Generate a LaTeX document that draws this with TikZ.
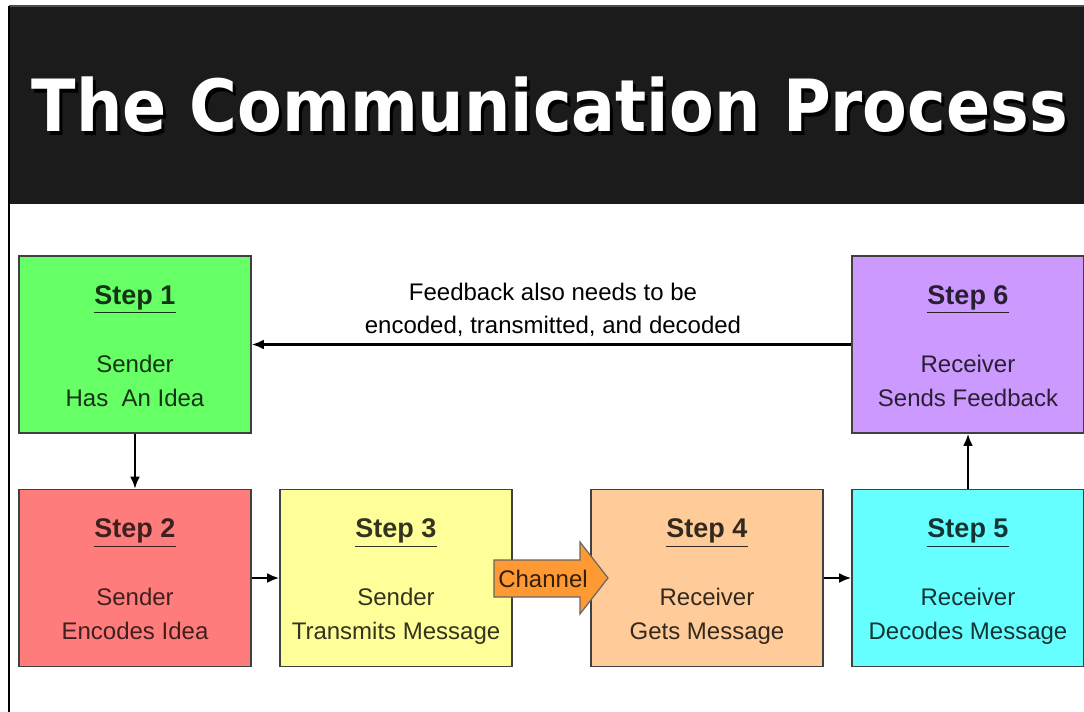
\documentclass[tikz,border=0pt]{standalone}
\usepackage{fontspec}
\setmainfont{Liberation Sans}
\newfontfamily\titlefont{DejaVu Sans}
\usetikzlibrary{calc,arrows,arrows.meta}
\definecolor{header}{HTML}{1B1B1B}
\definecolor{idea}{HTML}{66FF66}
\definecolor{encode}{HTML}{FF7C7C}
\definecolor{transmit}{HTML}{FFFF99}
\definecolor{gets}{HTML}{FFCC99}
\definecolor{decode}{HTML}{66FFFF}
\definecolor{feedback}{HTML}{CC99FF}
\definecolor{channel}{HTML}{FF9933}
\newcommand{\steptext}[3]{\rule{0pt}{16pt}{\fontsize{13.5}{17}\selectfont\underline{\textbf{Step #1}}}\\[17pt]#2\\#3\strut}
\newcommand{\titletext}{\scalebox{0.905}[1]{The Communication Process}}

\begin{document}
\begin{tikzpicture}[x=0.5pt,y=-0.5pt,
                      stepbox/.style={draw=black!75,line width=0.8pt,minimum width=116pt,
                        minimum height=88.5pt,inner sep=0pt,align=center,
                        font=\fontsize{12}{17}\selectfont},
                      link/.style={-{Latex[length=6pt,width=5pt]},line width=1.3pt}]
                      \useasboundingbox (0,0) rectangle (1084,712);
                      % header band and left rule
                      \fill[header] (9,6) rectangle (1084,204);
                      \draw[black!70,line width=0.6pt] (9,6) -- (1084,6);
                      \draw[black,line width=0.8pt] (9,6) -- (9,712);
                      \node[anchor=base,text=black,font=\titlefont\bfseries\fontsize{36}{40}\selectfont](shadow)at(553,135){\titletext};
                      \node[anchor=base,text=white,font=\titlefont\bfseries\fontsize{36}{40}\selectfont](title)at(550,132){\titletext};
                      % the six steps
                      \node[stepbox,fill=idea,text=idea!20!black](s1)at(135,344.5){\steptext{1}{Sender}{Has\ \ An Idea}};
                      \node[stepbox,fill=encode,text=encode!25!black](s2)at(135,578){\steptext{2}{Sender}{Encodes Idea}};
                      \node[stepbox,fill=transmit,text=transmit!20!black](s3)at(396,578){\steptext{3}{Sender}{Transmits Message}};
                      \node[stepbox,fill=gets,text=gets!20!black](s4)at(707,578){\steptext{4}{Receiver}{Gets Message}};
                      \node[stepbox,fill=decode,text=decode!20!black](s5)at(968,578){\steptext{5}{Receiver}{Decodes Message}};
                      \node[stepbox,fill=feedback,text=feedback!20!black](s6)at(968,344.5){\steptext{6}{Receiver}{Sends Feedback}};
                      % connectors
                      \draw[link] (s1) -- (s2);
                      \draw[link] (s2) -- (s3);
                      \draw[link] (s4) -- (s5);
                      \draw[link] (s5) -- (s6);
                      \draw[link] (s6) -- (s1);
                      \node[align=center,font=\fontsize{12}{16.5}\selectfont](fb)at(553,310){Feedback also needs to be\\encoded, transmitted, and decoded};
                      % channel block arrow
                      \draw[fill=channel,draw=black!60,line width=0.6pt] (494,560) -- (580,560) -- (580,542) -- (608,578)
                        -- (580,614) -- (580,597) -- (494,597) -- cycle;
                      \node[text=channel!20!black,font=\fontsize{12}{14}\selectfont](ch)at(543,578.5){Channel};
                  \end{tikzpicture}
\end{document}
